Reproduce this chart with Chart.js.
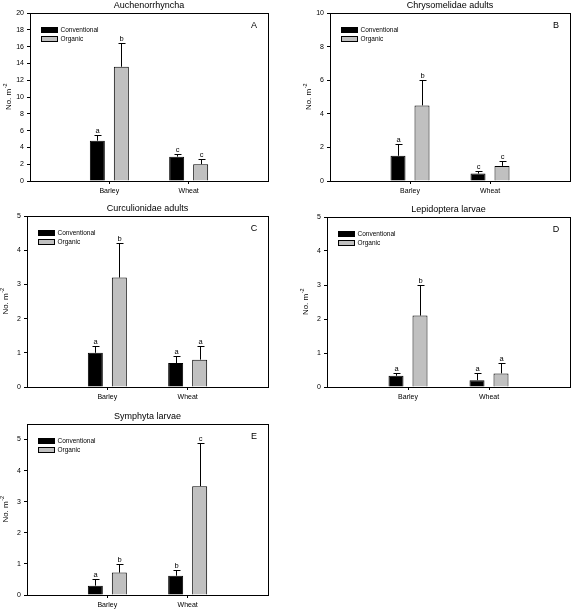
<!DOCTYPE html>
<html><head><meta charset="utf-8">
<script src="https://cdn.jsdelivr.net/npm/chart.js@4/dist/chart.umd.min.js"></script>
<style>
body{margin:0;background:#fff;width:574px;height:609px;position:relative;overflow:hidden}
canvas{position:absolute}
</style></head><body>
<canvas id="cA" width="287" height="203" style="left:0;top:0"></canvas>
<canvas id="cB" width="287" height="203" style="left:287px;top:0"></canvas>
<canvas id="cC" width="287" height="203" style="left:0;top:203px"></canvas>
<canvas id="cD" width="287" height="203" style="left:287px;top:203px"></canvas>
<canvas id="cE" width="287" height="203" style="left:0;top:406px"></canvas>
<script>
// ---- data ----
const categories = ['Barley', 'Wheat'];
const seriesNames = ['Conventional', 'Organic'];
const yLabelMain = 'No. m';
const yLabelSup = '-2';

const aTitle = 'Auchenorrhyncha', aLetter = 'A';
const aConv = [4.8, 2.9], aConvSE = [0.7, 0.3], aConvSig = ['a', 'c'];
const aOrg = [13.6, 2.0], aOrgSE = [2.8, 0.6], aOrgSig = ['b', 'c'];
const aYMax = 20, aYStep = 2;

const bTitle = 'Chrysomelidae adults', bLetter = 'B';
const bConv = [1.5, 0.44], bConvSE = [0.7, 0.16], bConvSig = ['a', 'c'];
const bOrg = [4.5, 0.9], bOrgSE = [1.5, 0.3], bOrgSig = ['b', 'c'];
const bYMax = 10, bYStep = 2;

const cTitle = 'Curculionidae adults', cLetter = 'C';
const cConv = [1.0, 0.7], cConvSE = [0.2, 0.2], cConvSig = ['a', 'a'];
const cOrg = [3.2, 0.8], cOrgSE = [1.0, 0.4], cOrgSig = ['b', 'a'];
const cYMax = 5, cYStep = 1;

const dTitle = 'Lepidoptera larvae', dLetter = 'D';
const dConv = [0.33, 0.2], dConvSE = [0.09, 0.2], dConvSig = ['a', 'a'];
const dOrg = [2.1, 0.4], dOrgSE = [0.9, 0.3], dOrgSig = ['b', 'a'];
const dYMax = 5, dYStep = 1;

const eTitle = 'Symphyta larvae', eLetter = 'E';
const eConv = [0.3, 0.62], eConvSE = [0.22, 0.2], eConvSig = ['a', 'b'];
const eOrg = [0.72, 3.5], eOrgSE = [0.28, 1.4], eOrgSig = ['b', 'c'];
const eYMax = 5.5, eYStep = 1;

// ---- rendering ----
const FONT = '"Liberation Sans", Arial, sans-serif';
const pad = arr => [null, ...arr, null];

const panelPlugin = {
  id: 'panel',
  afterDatasetsDraw(chart) {
    const o = chart.options.plugins.panel;
    const ctx = chart.ctx, ca = chart.chartArea, y = chart.scales.y;
    ctx.save();
    ctx.strokeStyle = '#000'; ctx.fillStyle = '#000'; ctx.lineWidth = 1;
    // error bars and significance letters
    chart.data.datasets.forEach((ds, di) => {
      const meta = chart.getDatasetMeta(di);
      meta.data.forEach((bar, i) => {
        const v = ds.data[i];
        if (v == null) return;
        const top = y.getPixelForValue(v + ds.se[i]);
        const x = Math.round(bar.x) + 0.5;
        const yt = Math.round(top) + 0.5;
        ctx.beginPath();
        ctx.moveTo(x, bar.y); ctx.lineTo(x, yt);
        ctx.moveTo(x - 3, yt); ctx.lineTo(x + 4, yt);
        ctx.stroke();
        ctx.font = '7.5px ' + FONT;
        ctx.textAlign = 'center'; ctx.textBaseline = 'alphabetic';
        ctx.fillText(ds.sig[i], x, yt - 3);
      });
    });
    // frame
    ctx.strokeRect(Math.round(ca.left) + 0.5, Math.round(ca.top) + 0.5, Math.round(ca.width), Math.round(ca.height));
    // legend
    chart.data.datasets.forEach((ds, di) => {
      const lx = Math.round(ca.left) + 11.5, ly = Math.round(ca.top) + 14.5 + di * 9;
      ctx.fillStyle = ds.backgroundColor;
      ctx.fillRect(lx, ly, 16, 5);
      ctx.strokeRect(lx, ly, 16, 5);
      ctx.fillStyle = '#000';
      ctx.font = '6.5px ' + FONT;
      ctx.textAlign = 'left'; ctx.textBaseline = 'middle';
      ctx.fillText(ds.label, lx + 19, ly + 2.5);
    });
    // title
    ctx.font = '9px ' + FONT;
    ctx.textAlign = 'center'; ctx.textBaseline = 'middle';
    ctx.fillText(o.title, (ca.left + ca.right) / 2, ca.top - 7);
    // panel letter
    ctx.font = '9px ' + FONT;
    ctx.fillText(o.letter, ca.right - 14, ca.top + 13);
    // y axis title
    ctx.translate(ca.left - 21, (ca.top + ca.bottom) / 2);
    ctx.rotate(-Math.PI / 2);
    ctx.font = '8px ' + FONT;
    const w1 = ctx.measureText(yLabelMain).width;
    ctx.font = '5.5px ' + FONT;
    const w2 = ctx.measureText(yLabelSup).width;
    const start = -(w1 + w2) / 2;
    ctx.textAlign = 'left'; ctx.textBaseline = 'middle';
    ctx.font = '8px ' + FONT;
    ctx.fillText(yLabelMain, start, 0);
    ctx.font = '5.5px ' + FONT;
    ctx.fillText(yLabelSup, start + w1 + 0.5, -3.5);
    ctx.restore();
  }
};

function makePanel(id, area, title, letter, conv, convSE, convSig, org, orgSE, orgSig, yMax, yStep) {
  const cv = document.getElementById(id);
  const W = cv.width, H = cv.height;
  const plotW = area.right - area.left;
  const slot = 24;
  new Chart(cv, {
    type: 'bar',
    data: {
      labels: ['', ...categories, ''],
      datasets: [
        { label: seriesNames[0], data: pad(conv), se: pad(convSE), sig: pad(convSig),
          backgroundColor: '#000000', borderColor: '#000000', borderWidth: 1 },
        { label: seriesNames[1], data: pad(org), se: pad(orgSE), sig: pad(orgSig),
          backgroundColor: '#c0c0c0', borderColor: '#000000', borderWidth: 1 }
      ]
    },
    options: {
      responsive: false,
      animation: false,
      events: [],
      datasets: { bar: { categoryPercentage: (2 * slot) / (plotW / 3), barPercentage: 15 / slot } },
      layout: { padding: { left: 0, top: area.top, right: W - area.right, bottom: 0 } },
      plugins: {
        legend: { display: false }, title: { display: false }, tooltip: { enabled: false },
        panel: { title, letter }
      },
      scales: {
        x: {
          type: 'category', offset: false,
          afterFit: s => { s.height = H - area.bottom; },
          grid: { display: true, offset: false, drawOnChartArea: false, drawTicks: true, tickLength: 3,
                  tickColor: c => (c.tick && c.tick.label) ? '#000' : 'rgba(0,0,0,0)' },
          border: { display: false },
          ticks: { color: '#000', font: { family: FONT, size: 7 }, padding: 3, maxRotation: 0, autoSkip: false }
        },
        y: {
          min: 0, max: yMax,
          afterFit: s => { s.width = area.left; },
          grid: { display: true, drawOnChartArea: false, drawTicks: true, tickLength: 3, color: '#000' },
          border: { display: false },
          ticks: { stepSize: yStep, includeBounds: false, color: '#000', font: { family: FONT, size: 7 }, padding: 3 }
        }
      }
    },
    plugins: [panelPlugin]
  });
}

makePanel('cA', {left: 30, top: 13, right: 268, bottom: 181}, aTitle, aLetter, aConv, aConvSE, aConvSig, aOrg, aOrgSE, aOrgSig, aYMax, aYStep);
makePanel('cB', {left: 43, top: 13, right: 283, bottom: 181}, bTitle, bLetter, bConv, bConvSE, bConvSig, bOrg, bOrgSE, bOrgSig, bYMax, bYStep);
makePanel('cC', {left: 27, top: 13, right: 268, bottom: 184}, cTitle, cLetter, cConv, cConvSE, cConvSig, cOrg, cOrgSE, cOrgSig, cYMax, cYStep);
makePanel('cD', {left: 40, top: 14, right: 283, bottom: 184}, dTitle, dLetter, dConv, dConvSE, dConvSig, dOrg, dOrgSE, dOrgSig, dYMax, dYStep);
makePanel('cE', {left: 27, top: 18, right: 268, bottom: 189}, eTitle, eLetter, eConv, eConvSE, eConvSig, eOrg, eOrgSE, eOrgSig, eYMax, eYStep);
</script>
</body></html>
